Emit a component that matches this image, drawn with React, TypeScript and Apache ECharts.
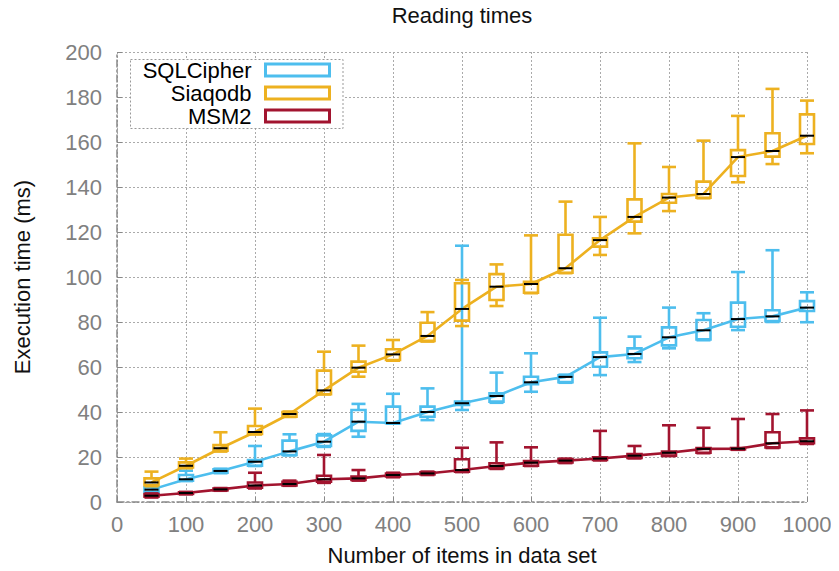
import React, { useEffect, useRef } from "react";
import * as echarts from "echarts";

const xs = [50, 100, 150, 200, 250, 300, 350, 400, 450, 500, 550, 600, 650, 700, 750, 800, 850, 900, 950, 1000];

// [min, q1, median, q3, max]
const sqlcipher = [
  [4, 4.5, 5.5, 6.5, 7.5],
  [9.3, 9.5, 10.1, 12, 13.9],
  [12.8, 13, 13.8, 14.5, 14.8],
  [16, 16.1, 17.9, 18.7, 24.9],
  [20.7, 20.9, 22.5, 27.3, 30.1],
  [24.5, 24.9, 26.8, 29.6, 30.2],
  [29, 31.6, 35.7, 40.9, 43.6],
  [34.8, 35, 35.1, 42.4, 48.1],
  [36.4, 37.9, 40, 42.4, 50.5],
  [40.9, 43.1, 43.9, 44.6, 113.9],
  [44.1, 44.6, 47.1, 48.3, 57.5],
  [49, 52.4, 53.2, 55.7, 66.1],
  [53, 53.3, 55.6, 56.3, 56.6],
  [56.4, 60.1, 64.4, 66.5, 81.9],
  [62.2, 63.9, 65.8, 68.3, 73.5],
  [68.3, 69.6, 73.2, 77.6, 86.4],
  [71.9, 72.3, 76.3, 80.9, 83.9],
  [76.4, 77.9, 81.3, 88.6, 102.2],
  [80, 80.4, 82.5, 85.2, 111.9],
  [79.9, 84.9, 86.4, 89.3, 93.2],
];

const siaqodb = [
  [7, 7.5, 8.7, 10.5, 13.5],
  [15, 15.4, 16.1, 17.6, 19.3],
  [22.4, 22.8, 23.9, 25.3, 31],
  [30, 30.2, 31.1, 33.8, 41.5],
  [37.8, 37.9, 39.1, 40, 40.2],
  [47.8, 47.9, 49.6, 58.4, 66.8],
  [55.7, 57.9, 59.7, 62.4, 69.5],
  [62.8, 63.1, 65.6, 67.9, 72],
  [71.3, 71.6, 73.8, 79.7, 84.4],
  [78.2, 80.6, 85.8, 97.2, 98.7],
  [87.1, 89.8, 95.7, 101.3, 105.6],
  [92.8, 93, 96.9, 97.9, 118.5],
  [101.7, 101.9, 103.9, 118.8, 133.5],
  [109.8, 113.5, 116.4, 117.2, 126.7],
  [119.4, 124.6, 126.7, 134.5, 159.4],
  [129.3, 133, 135.3, 136.9, 148.9],
  [135, 135.2, 136.9, 142.4, 160.6],
  [142.1, 144.9, 153.3, 156.4, 171.6],
  [150.2, 153.5, 156, 163.9, 183.6],
  [155, 159.1, 162.8, 172.3, 178.4],
];

const msm2 = [
  [2, 2.4, 2.8, 3.5, 3.8],
  [3.4, 3.6, 4, 4.3, 4.5],
  [5, 5.2, 5.6, 6, 6.2],
  [6, 6.3, 7.3, 8.7, 13],
  [7.2, 7.4, 8, 9, 9.5],
  [8.5, 9, 10.1, 11.7, 20.9],
  [9.5, 9.8, 10.5, 11.3, 14.2],
  [11, 11.3, 12, 12.7, 13],
  [12, 12.3, 12.7, 13.2, 13.5],
  [13.3, 13.5, 14.2, 19, 24.1],
  [14.7, 15, 16, 17.2, 26.5],
  [16, 16.1, 17.5, 18.2, 24.3],
  [17.3, 17.6, 18.4, 19, 19.3],
  [18.5, 18.7, 19.3, 19.9, 31.6],
  [19.4, 19.6, 20.6, 21.3, 24.9],
  [20.4, 20.6, 21.9, 22.4, 34.1],
  [21.7, 21.9, 23.6, 24, 33],
  [23.2, 23.4, 23.7, 24, 36.9],
  [24, 24.3, 26.1, 31, 39.1],
  [25.8, 26.1, 27, 28.3, 40.7],
];

const seriesNames = ["SQLCipher", "Siaqodb", "MSM2"];
const seriesColors = ["#4DBEEE", "#EDB120", "#A2142F"];
const seriesData = [sqlcipher, siaqodb, msm2];

const FONT = "'Liberation Sans', Arial, Helvetica, sans-serif";

function makeRender(color: string) {
  return (params: any, api: any) => {
    const x = api.value(0);
    const pMin = api.coord([x, api.value(1)]);
    const cx = pMin[0];
    const yMin = pMin[1];
    const yQ1 = api.coord([x, api.value(2)])[1];
    const yMed = api.coord([x, api.value(3)])[1];
    const yQ3 = api.coord([x, api.value(4)])[1];
    const yMax = api.coord([x, api.value(5)])[1];
    const hw = 7;
    const s = { stroke: color, lineWidth: 2.6, fill: null };
    return {
      type: "group",
      children: [
        { type: "line", shape: { x1: cx, y1: yMax, x2: cx, y2: yQ3 }, style: s },
        { type: "line", shape: { x1: cx, y1: yQ1, x2: cx, y2: yMin }, style: s },
        { type: "line", shape: { x1: cx - hw, y1: yMax, x2: cx + hw, y2: yMax }, style: s },
        { type: "line", shape: { x1: cx - hw, y1: yMin, x2: cx + hw, y2: yMin }, style: s },
        {
          type: "rect",
          shape: { x: cx - hw, y: yQ3, width: 2 * hw, height: Math.max(yQ1 - yQ3, 0.5) },
          style: { stroke: color, lineWidth: 2.6, fill: "rgba(255,255,255,0)" },
        },
        {
          type: "line",
          shape: { x1: cx - hw, y1: yMed, x2: cx + hw, y2: yMed },
          style: { stroke: "#000", lineWidth: 2 },
        },
      ],
    };
  };
}

export default function App() {
  const ref = useRef<HTMLDivElement>(null);
  useEffect(() => {
    if (!ref.current) return;
    const chart = echarts.init(ref.current, undefined, { renderer: "svg" });

    const series: any[] = [];
    seriesNames.forEach((name, i) => {
      const d = seriesData[i];
      series.push({
        name,
        type: "line",
        data: xs.map((x, j) => [x, d[j][2]]),
        symbol: "none",
        lineStyle: { color: seriesColors[i], width: 2.6 },
        itemStyle: { color: seriesColors[i] },
        z: 2,
      });
    });
    seriesNames.forEach((name, i) => {
      const d = seriesData[i];
      series.push({
        name,
        type: "custom",
        renderItem: makeRender(seriesColors[i]),
        data: xs.map((x, j) => [x, ...d[j]]),
        encode: { x: 0, y: [1, 2, 3, 4, 5] },
        itemStyle: { color: seriesColors[i] },
        z: 3,
      });
    });

    const legendCenters = [71, 94, 117];
    const legends = seriesNames.map((name, i) => ({
      orient: "vertical",
      align: "right",
      right: 508,
      top: legendCenters[i] - 12,
      padding: 0,
      itemWidth: 64,
      itemHeight: 12,
      selectedMode: false,
      z: 5,
      textStyle: { fontSize: 22, color: "#000", fontFamily: FONT, padding: [0, 9, 0, 0] },
      data: [
        {
          name,
          icon: "rect",
          itemStyle: { color: "#fff", borderColor: seriesColors[i], borderWidth: 3 },
        },
      ],
    }));

    chart.setOption({
      animation: false,
      backgroundColor: "#fff",
      textStyle: { fontFamily: FONT },
      title: {
        text: "Reading times",
        left: 462,
        top: 4,
        padding: 0,
        textAlign: "center",
        textStyle: { fontSize: 22, fontWeight: "normal", color: "#111", fontFamily: FONT },
      },
      legend: legends,
      graphic: [
        {
          type: "rect",
          z: 4,
          shape: { x: 130.5, y: 59.5, width: 212.5, height: 69 },
          style: { fill: "#fff", stroke: "#999", lineWidth: 1, lineDash: [2, 2] },
        },
      ],
      grid: { left: 117, right: 32, top: 52, bottom: 69, outerBoundsMode: "none", containLabel: false },
      xAxis: {
        type: "value",
        min: 0,
        max: 1000,
        interval: 100,
        name: "Number of items in data set",
        nameLocation: "middle",
        nameGap: 42,
        nameTextStyle: { fontSize: 22, color: "#111", fontFamily: FONT },
        axisLine: { onZero: false, lineStyle: { color: "#888", width: 1.5, type: [7, 3, 2, 3] } },
        axisTick: { inside: true, length: 5, lineStyle: { color: "#888" } },
        axisLabel: {
          fontSize: 22,
          color: "#808080",
          margin: 11,
          fontFamily: FONT,
          formatter: (v: number) => String(v),
        },
        splitLine: { show: true, lineStyle: { color: "#aaa", type: [2, 2], width: 1 } },
      },
      yAxis: {
        type: "value",
        min: 0,
        max: 200,
        interval: 20,
        name: "Execution time (ms)",
        nameLocation: "middle",
        nameGap: 84,
        nameTextStyle: { fontSize: 22, color: "#111", fontFamily: FONT },
        axisLine: { show: true, lineStyle: { color: "#888", width: 1.5, type: [7, 3, 2, 3] } },
        axisTick: { show: true, inside: true, length: 5, lineStyle: { color: "#888" } },
        axisLabel: { fontSize: 22, color: "#808080", margin: 15, fontFamily: FONT },
        splitLine: { show: true, lineStyle: { color: "#aaa", type: [2, 2], width: 1 } },
      },
      series,
    });
    return () => chart.dispose();
  }, []);
  return <div ref={ref} style={{ width: 839, height: 571, marginLeft: -8, marginTop: -8 }} />;
}
